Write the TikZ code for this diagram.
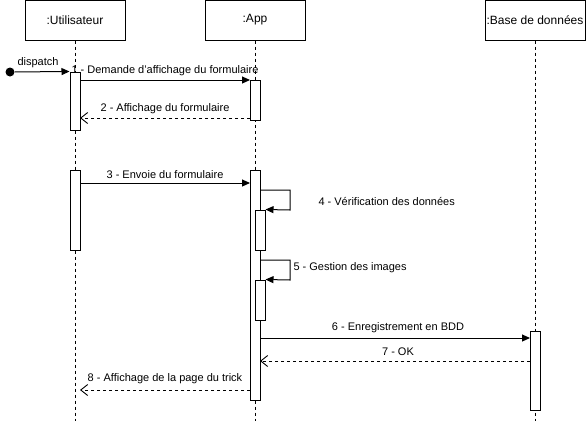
\documentclass[tikz,border=0pt]{standalone}
\usepackage{fontspec}
\setmainfont{Liberation Sans}
\usetikzlibrary{arrows.meta}
\begin{document}
\begin{tikzpicture}[x=1pt,y=-1pt,line width=1pt,
 head/.style={draw, minimum width=100pt, minimum height=40pt, font=\fontsize{12}{14}\selectfont, inner sep=0pt},
 bar/.style={draw, fill=white, minimum width=10pt, inner sep=0pt},
 life/.style={line width=0.8pt, dash pattern=on 3pt off 3pt},
 msg/.style={-{Triangle[length=8pt,width=7pt]}},
 ret/.style={dash pattern=on 3pt off 3pt, -{Straight Barb[length=7pt,width=11pt,line width=0.9pt]}},
 selfmsg/.style={-{Triangle[length=8pt,width=7pt]}},
 lbl/.style={font=\fontsize{11}{13}\selectfont, inner sep=1pt}
]
\useasboundingbox (0,0) rectangle (586,421);
% headers
\node[head] (hu) at (75,20) {:Utilisateur};
\node[head] (ha) at (255,20) {:App};
\node[head] (hd) at (535,20) {:Base de données};
\coordinate (eu) at (75,421);
\coordinate (ea) at (255,421);
\coordinate (ed) at (535,421);
\draw[life] (hu.south) -- (eu);
\draw[life] (ha.south) -- (ea);
\draw[life] (hd.south) -- (ed);
% activation bars
\node[bar, minimum height=58pt] (u1) at (75,101) {};
\node[bar, minimum height=40pt] (a1) at (255,100) {};
\node[bar, minimum height=80pt] (u2) at (75,210) {};
\node[bar, minimum height=230pt] (a2) at (255,285) {};
\node[bar, minimum height=40pt] (a3) at (260,230) {};
\node[bar, minimum height=40pt] (a4) at (260,300) {};
\node[bar, minimum height=79pt] (d1) at (535,370.5) {};
% dispatch
\node[circle, fill=black, minimum size=9pt, inner sep=0pt] (start) at (10,72) {};
\draw[msg] (start) -- (u1.north west);
\node[lbl] (ldisp) at (38,63) {dispatch};
% 1
\coordinate (m1s) at (80,80);
\coordinate (m1e) at (250,80);
\draw[msg] (m1s) -- (m1e);
\node[lbl] (l1) at (165,71) {1 - Demande d'affichage du formulaire};
% 2
\coordinate (m2s) at (250,118);
\coordinate (m2e) at (80,118);
\draw[ret] (m2s) -- (m2e);
\node[lbl] (l2) at (165,109) {2 - Affichage du formulaire};
% 3
\coordinate (m3s) at (80,183);
\coordinate (m3e) at (250,183);
\draw[msg] (m3s) -- (m3e);
\node[lbl] (l3) at (165,175) {3 - Envoie du formulaire};
% 4
\coordinate (m4s) at (260,190);
\draw[selfmsg] (m4s) -- (290,190) -- (290,210) -- (a3.north east);
\node[lbl, anchor=west] (l4) at (317,201) {4 - Vérification des données};
% 5
\coordinate (m5s) at (260,260);
\draw[selfmsg] (m5s) -- (290,260) -- (290,280) -- (a4.north east);
\node[lbl, anchor=west] (l5) at (292,268) {5 - Gestion des images};
% 6
\coordinate (m6s) at (260,338);
\coordinate (m6e) at (530,338);
\draw[msg] (m6s) -- (m6e);
\node[lbl] (l6) at (398,328) {6 - Enregistrement en BDD};
% 7
\coordinate (m7s) at (530,361);
\coordinate (m7e) at (260,361);
\draw[ret] (m7s) -- (m7e);
\node[lbl] (l7) at (398,352) {7 - OK};
% 8
\coordinate (m8s) at (250,390);
\coordinate (m8e) at (80,390);
\draw[ret] (m8s) -- (m8e);
\node[lbl] (l8) at (165,379) {8 - Affichage de la page du trick};
\end{tikzpicture}
\end{document}
